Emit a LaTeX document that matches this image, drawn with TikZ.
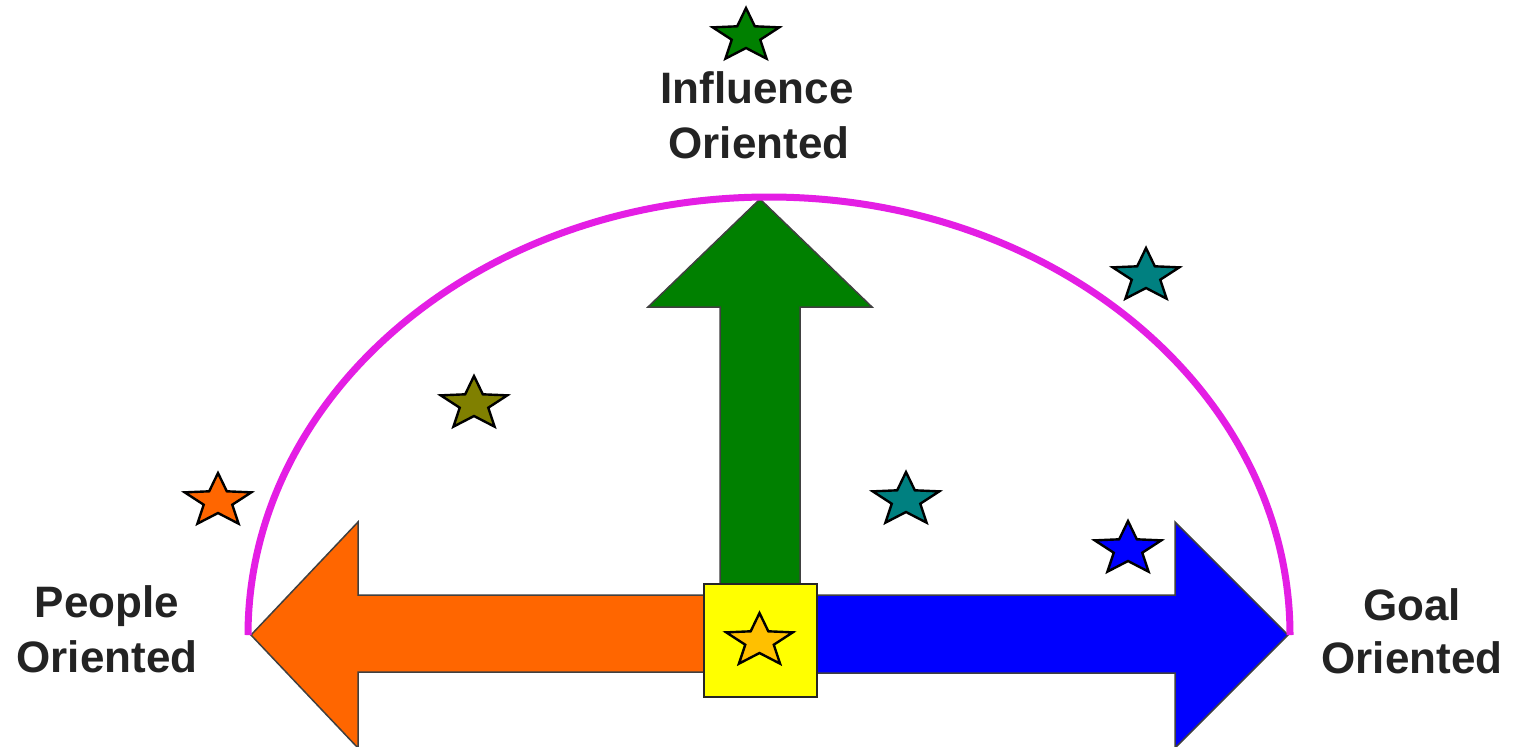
\documentclass[tikz,border=0pt]{standalone}
\usepackage{fontspec}
\setmainfont{Liberation Sans}
\definecolor{mag}{RGB}{228,30,228}
\definecolor{dgreen}{RGB}{0,128,0}
\definecolor{tealc}{RGB}{0,128,128}
\definecolor{olivec}{RGB}{128,128,0}
\definecolor{orangec}{RGB}{255,102,0}
\definecolor{bluec}{RGB}{0,0,255}
\definecolor{goldc}{RGB}{255,192,0}
\definecolor{yellowc}{RGB}{255,255,0}
\definecolor{txtc}{RGB}{35,35,35}
\tikzset{
  lbl/.style={font=\fontsize{22}{27.5}\selectfont\bfseries, text=txtc, anchor=base, inner sep=0pt},
  arrowshape/.style={draw=black!75, line width=0.75pt, line join=miter},
  pics/mystar/.style={code={
    \draw[pic actions, draw=black, line width=1.2pt, line join=miter, xscale=1.25]
      (270:28) -- (306:12) -- (342:28) -- (18:12) -- (54:28) -- (90:12)
      -- (126:28) -- (162:12) -- (198:28) -- (234:12) -- cycle;
  }}
}
\begin{document}
\begin{tikzpicture}[x=0.5pt,y=-0.5pt]
\useasboundingbox (0,0) rectangle (1519,746);
\fill[white] (0,0) rectangle (1519,746);
\clip (0,0) rectangle (1519,746);

% arrows
\fill[orangec, arrowshape] (705,595) -- (358,595) -- (358,522) -- (251,635) -- (358,748) -- (358,672) -- (705,672) -- cycle;
\fill[bluec, arrowshape] (817,595) -- (1175,595) -- (1175,522) -- (1288,635) -- (1175,748) -- (1175,673) -- (817,673) -- cycle;
\fill[dgreen, arrowshape] (720,584) -- (720,307) -- (648,307) -- (760,199) -- (872,307) -- (800,307) -- (800,584) -- cycle;

% magenta arc
\coordinate (arcL) at (248,635);
\draw[mag, line width=3.5pt] (arcL) arc[start angle=180, end angle=360, x radius=521, y radius=438];

% centre square
\node[draw=black!85, line width=1.2pt, fill=yellowc, minimum size=56.5pt, inner sep=0pt] (sq) at (760.5,640.5) {};

% stars
\pic[fill=dgreen] (s1) at (746,36) {mystar};
\pic[fill=tealc] (s2) at (1146,276) {mystar};
\pic[fill=olivec] (s3) at (474,404) {mystar};
\pic[fill=orangec] (s4) at (218,501) {mystar};
\pic[fill=tealc] (s5) at (906,500) {mystar};
\pic[fill=bluec] (s6) at (1128,549) {mystar};
\pic[fill=goldc] (s7) at (759.5,641) {mystar};

% labels
\node[lbl] (infl1) at (757,103) {Influence};
\node[lbl] (infl2) at (759,158) {Oriented};
\node[lbl] (peop1) at (107,617) {People};
\node[lbl] (peop2) at (107,672) {Oriented};
\node[lbl] (goal1) at (1412,620) {Goal};
\node[lbl] (goal2) at (1412,673) {Oriented};
\end{tikzpicture}
\end{document}
